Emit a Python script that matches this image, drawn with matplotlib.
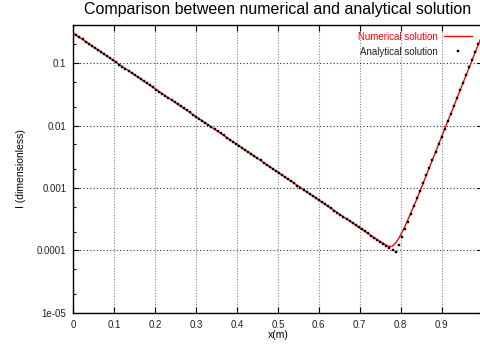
import matplotlib.pyplot as plt
import matplotlib.ticker as ticker
import numpy as np

plt.rcParams['font.family'] = ['Liberation Sans', 'DejaVu Sans']

# numerical solution (solid red line), intensity given as log10(I)
x_num = [0.0, 0.74, 0.76, 0.77, 0.775, 0.78, 0.785, 0.79, 0.795, 0.80,
         0.81, 0.82, 0.83, 0.84, 1.0]
log_i_num = [-0.519, -3.819, -3.900, -3.935, -3.940, -3.930, -3.900, -3.860, -3.810, -3.750,
             -3.620, -3.470, -3.320, -3.168, -0.528]

# analytical solution (black dots), sampled every 0.0075 m, log10(I)
dx_ana = 0.0075
log_i_ana = [
    -0.519, -0.552, -0.586, -0.619, -0.653, -0.686, -0.720, -0.753, -0.787, -0.820,
    -0.854, -0.887, -0.920, -0.954, -0.987, -1.021, -1.054, -1.088, -1.121, -1.155,
    -1.188, -1.221, -1.255, -1.288, -1.322, -1.355, -1.389, -1.422, -1.456, -1.489,
    -1.523, -1.556, -1.589, -1.623, -1.656, -1.690, -1.723, -1.757, -1.790, -1.824,
    -1.857, -1.890, -1.924, -1.957, -1.991, -2.024, -2.058, -2.091, -2.125, -2.158,
    -2.192, -2.225, -2.258, -2.292, -2.325, -2.359, -2.392, -2.426, -2.459, -2.493,
    -2.526, -2.559, -2.593, -2.626, -2.660, -2.693, -2.727, -2.760, -2.794, -2.827,
    -2.861, -2.894, -2.927, -2.961, -2.994, -3.028, -3.061, -3.095, -3.128, -3.162,
    -3.195, -3.228, -3.262, -3.295, -3.329, -3.362, -3.396, -3.429, -3.463, -3.496,
    -3.530, -3.563, -3.596, -3.630, -3.663, -3.697, -3.730, -3.764, -3.797, -3.831,
    -3.864, -3.897, -3.931, -3.964, -3.998, -4.030, -3.911, -3.787, -3.663, -3.539,
    -3.416, -3.292, -3.168, -3.044, -2.921, -2.797, -2.673, -2.549, -2.426, -2.302,
    -2.178, -2.054, -1.931, -1.807, -1.683, -1.559, -1.436, -1.312, -1.188, -1.064,
    -0.941, -0.817, -0.693, -0.569,
]
x_ana = np.arange(len(log_i_ana)) * dx_ana

x_ticks = [0, 0.1, 0.2, 0.3, 0.4, 0.5, 0.6, 0.7, 0.8, 0.9]
x_labels = ['0', '0.1', '0.2', '0.3', '0.4', '0.5', '0.6', '0.7', '0.8', '0.9']
y_ticks = [1e-5, 1e-4, 1e-3, 1e-2, 1e-1]
y_labels = ['1e-05', '0.0001', '0.001', '0.01', '0.1']

fig = plt.figure(figsize=(4.8, 3.47), dpi=100)
ax = fig.add_axes([0.1527, 0.0988, 0.8527, 0.8292])

ax.plot(x_num, np.power(10.0, log_i_num), color='red', lw=1.0,
        label='Numerical solution', zorder=3)
ax.plot(x_ana, np.power(10.0, log_i_ana), ls='none', marker='s', ms=1.5,
        mew=0.3, color='black', label='Analytical solution', zorder=4)

ax.set_yscale('log')
ax.set_xlim(0, 1)
ax.set_ylim(1e-5, 0.41)

ax.set_xticks(x_ticks)
ax.set_xticklabels(x_labels)
ax.set_yticks(y_ticks)
ax.set_yticklabels(y_labels)
ax.yaxis.set_minor_locator(ticker.LogLocator(base=10, subs=[2, 5], numticks=20))
ax.yaxis.set_minor_formatter(ticker.NullFormatter())
ax.tick_params(which='both', direction='in', top=True, right=True,
               labelsize=7, colors='black', labelcolor='#222222', pad=5)
ax.tick_params(which='major', length=4, width=0.8)
ax.tick_params(which='minor', length=2, width=0.8)

ax.grid(True, axis='y', which='major', color='#333333', ls=(0, (1, 2)), lw=0.8)
ax.grid(True, axis='x', which='major', color='#888888', ls=(0, (1, 1.5)), lw=0.8)
for s in ax.spines.values():
    s.set_linewidth(1.0)

ax.set_xlabel('x(m)', fontsize=7.5, labelpad=0)
ax.set_ylabel('I (dimensionless)', fontsize=7.5, labelpad=8)
ax.set_title('Comparison between numerical and analytical solution', fontsize=11.5, pad=8)

leg = ax.legend(loc='upper right', bbox_to_anchor=(0.99, 1.0), frameon=False,
                markerfirst=False, fontsize=7, handlelength=2.8, handletextpad=0.7,
                labelspacing=0.5, borderaxespad=0.3, markerscale=1.3)
leg.get_texts()[0].set_color('red')
leg.get_texts()[1].set_color('#222222')

fig.savefig('out.png', dpi=100)
